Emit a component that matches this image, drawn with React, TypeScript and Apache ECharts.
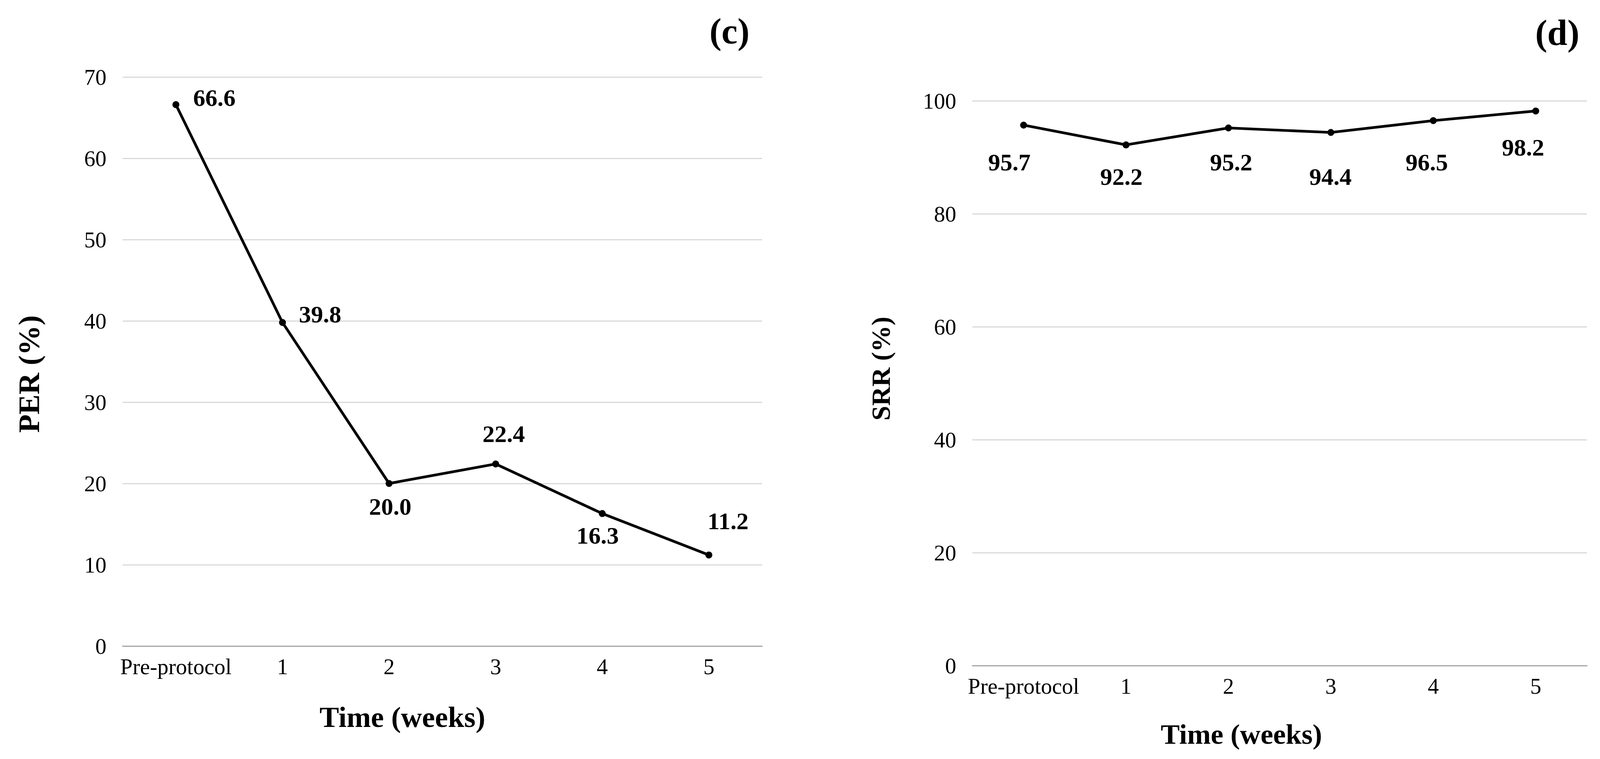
import React, { useEffect, useRef } from 'react';
import * as echarts from 'echarts';

const CATEGORIES = ['Pre-protocol', '1', '2', '3', '4', '5'];
const PER_VALUES = [66.6, 39.8, 20.0, 22.4, 16.3, 11.2];
const SRR_VALUES = [95.7, 92.2, 95.2, 94.4, 96.5, 98.2];
const PER_AXIS = { min: 0, max: 70, interval: 10 };
const SRR_AXIS = { min: 0, max: 100, interval: 20 };
const PANEL_TAGS = ['(c)', '(d)'];
const Y_TITLES = ['PER (%)', 'SRR (%)'];
const X_TITLE = 'Time (weeks)';

// label offsets (layout only) relative to each point, in reference pixels
const PER_LABEL_OFFSETS = [[100, -18], [98, -21], [3, 59], [21, -77], [-12, 56], [50, -87]];
const SRR_LABEL_OFFSETS = [[-37, 95], [-12, 81], [7, 88], [-1, 113], [-17, 106], [-33, 93]];

const REF_W = 4163;
const REF_H = 1942;
const FONT = "'Liberation Serif', 'Times New Roman', serif";

export default function App() {
  const ref = useRef<HTMLDivElement>(null);
  useEffect(() => {
    const el = ref.current;
    if (!el) return;
    const W = el.clientWidth || REF_W;
    const H = el.clientHeight || REF_H;
    const sx = W / REF_W;
    const sy = H / REF_H;
    const sf = Math.min(sx, sy);
    const X = (v: number) => v * sx;
    const Y = (v: number) => v * sy;
    const F = (v: number) => v * sf;

    const textEl = (text: string, x: number, y: number, size: number, rotation = 0) => ({
      type: 'text',
      x: X(x),
      y: Y(y),
      rotation,
      style: {
        text,
        fill: '#000',
        fontSize: F(size),
        fontWeight: 'bold',
        fontFamily: FONT,
        align: 'center',
        verticalAlign: 'middle',
        textAlign: 'center',
        textVerticalAlign: 'middle',
      },
    });

    const chart = echarts.init(el, undefined, { renderer: 'svg' });
    const xAxisBase = (gridIndex: number) => ({
      type: 'category',
      gridIndex,
      data: CATEGORIES,
      boundaryGap: true,
      axisTick: { show: false },
      axisLine: { show: true, lineStyle: { color: '#a6a6a6', width: F(3) } },
      axisLabel: { fontSize: F(58), color: '#000', fontFamily: FONT, margin: Y(24), interval: 0 },
    });
    const yAxisBase = (gridIndex: number, ax: { min: number; max: number; interval: number }) => ({
      type: 'value',
      gridIndex,
      min: ax.min,
      max: ax.max,
      interval: ax.interval,
      axisLine: { show: false },
      axisTick: { show: false },
      splitLine: { show: true, lineStyle: { color: '#d9d9d9', width: F(3) } },
      axisLabel: { fontSize: F(58), color: '#000', fontFamily: FONT, margin: X(42) },
    });
    const seriesBase = (idx: number, values: number[], offsets: number[][]) => ({
      type: 'line',
      xAxisIndex: idx,
      yAxisIndex: idx,
      data: values.map((v, i) => ({ value: v, label: { offset: [X(offsets[i][0]), Y(offsets[i][1])] } })),
      symbol: 'circle',
      symbolSize: F(18),
      lineStyle: { color: '#000', width: F(7) },
      itemStyle: { color: '#000' },
      label: {
        show: true,
        position: 'inside',
        fontSize: F(63),
        fontWeight: 'bold',
        fontFamily: FONT,
        color: '#000',
        formatter: (p: any) => Number(p.value).toFixed(1),
      },
      z: 3,
    });
    chart.setOption({
      animation: false,
      backgroundColor: '#fff',
      grid: [
        { left: X(319), top: Y(197), width: X(1664), height: Y(1456), containLabel: false },
        { left: X(2530), top: Y(258), width: X(1599), height: Y(1445), containLabel: false },
      ],
      xAxis: [xAxisBase(0), xAxisBase(1)],
      yAxis: [yAxisBase(0, PER_AXIS), yAxisBase(1, SRR_AXIS)],
      series: [
        seriesBase(0, PER_VALUES, PER_LABEL_OFFSETS),
        seriesBase(1, SRR_VALUES, SRR_LABEL_OFFSETS),
      ],
      graphic: [
        textEl(PANEL_TAGS[0], 1898, 80, 94),
        textEl(PANEL_TAGS[1], 4052, 84, 94),
        textEl(Y_TITLES[0], 76, 957, 78, Math.PI / 2),
        textEl(Y_TITLES[1], 2292, 943, 69, Math.PI / 2),
        textEl(X_TITLE, 1047, 1834, 76),
        textEl(X_TITLE, 3230, 1878, 74),
      ],
    });
    return () => chart.dispose();
  }, []);
  return (
    <div
      ref={ref}
      style={{ position: 'fixed', left: 0, top: 0, width: '100vw', height: '100vh', background: '#fff' }}
    />
  );
}
